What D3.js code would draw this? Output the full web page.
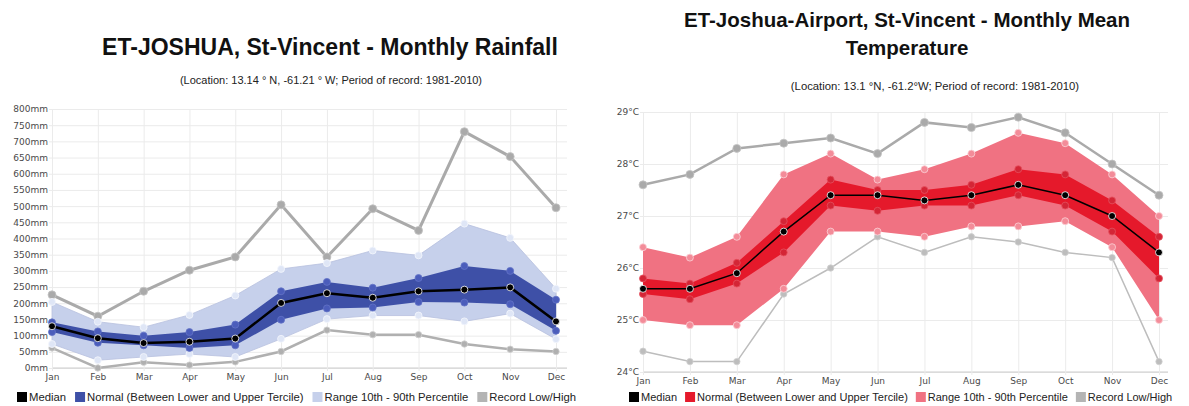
<!DOCTYPE html>
<html>
<head>
<meta charset="utf-8">
<script src="https://cdn.jsdelivr.net/npm/d3@7"></script>
<style>
	body { margin: 0; background: #fff; }
	svg { display: block; }
	.tick-label { font-family: 'DejaVu Sans', sans-serif; font-size: 9px; fill: #4a4a4a; }
	.legend-text { font-family: 'Liberation Sans', Arial, sans-serif; fill: #222; }
	.title { font-family: 'Liberation Sans', Arial, sans-serif; font-weight: bold; fill: #111; }
	.subtitle { font-family: 'Liberation Sans', Arial, sans-serif; fill: #222; }
</style>
</head>
<body>
<div id="canvas"></div>
<script>
const months = ['Jan', 'Feb', 'Mar', 'Apr', 'May', 'Jun', 'Jul', 'Aug', 'Sep', 'Oct', 'Nov', 'Dec'];

// rainfall (mm)
const rainHigh = [226, 160, 237, 302, 343, 504, 343, 492, 425, 730, 653, 495];
const rainP90 = [204, 143, 126, 164, 224, 306, 324, 363, 348, 446, 402, 245];
const rainUpper = [141, 113, 100, 111, 134, 237, 266, 248, 278, 315, 300, 211];
const rainMedian = [129, 92, 77, 81, 91, 201, 231, 217, 237, 242, 249, 144];
const rainLower = [111, 78, 70, 62, 70, 149, 184, 187, 204, 202, 197, 115];
const rainP10 = [74, 24, 34, 43, 34, 90, 151, 162, 162, 144, 168, 89];
const rainLow = [62, 0, 18, 9, 19, 51, 117, 103, 103, 74, 58, 51];
const rainTicks = [0, 50, 100, 150, 200, 250, 300, 350, 400, 450, 500, 550, 600, 650, 700, 750, 800];

// mean temperature (°C)
const tempHigh = [27.6, 27.8, 28.3, 28.4, 28.5, 28.2, 28.8, 28.7, 28.9, 28.6, 28.0, 27.4];
const tempP90 = [26.4, 26.2, 26.6, 27.8, 28.2, 27.7, 27.9, 28.2, 28.6, 28.4, 27.8, 27.0];
const tempUpper = [25.8, 25.7, 26.1, 26.9, 27.7, 27.5, 27.5, 27.6, 27.9, 27.8, 27.3, 26.6];
const tempMedian = [25.6, 25.6, 25.9, 26.7, 27.4, 27.4, 27.3, 27.4, 27.6, 27.4, 27.0, 26.3];
const tempLower = [25.5, 25.4, 25.7, 26.3, 27.2, 27.1, 27.2, 27.2, 27.4, 27.2, 26.7, 25.8];
const tempP10 = [25.0, 24.9, 24.9, 25.6, 26.7, 26.7, 26.6, 26.8, 26.8, 26.9, 26.4, 25.0];
const tempLow = [24.4, 24.2, 24.2, 25.5, 26.0, 26.6, 26.3, 26.6, 26.5, 26.3, 26.2, 24.2];
const tempTicks = [24, 25, 26, 27, 28, 29];

const legendLabels = ['Median', 'Normal (Between Lower and Upper Tercile)', 'Range 10th - 90th Percentile', 'Record Low/High'];

const svg = d3.select('#canvas').append('svg').attr('width', 1189).attr('height', 406);

function drawPanel(cfg) {
	const g = svg.append('g');
	const x = d3.scalePoint().domain(months).range(cfg.xRange);
	const y = d3.scaleLinear().domain(cfg.yDomain).range(cfg.yRange);
	const [x0] = cfg.xRange;
	const right = cfg.plotRight;
	const [yBottom, yTop] = cfg.yRange;

	// grid + axes
	g.append('g')
		.attr('transform', `translate(${x0},0)`)
		.call(d3.axisLeft(y).tickValues(cfg.ticks).tickSize(-(right - x0)).tickSizeOuter(0).tickFormat(cfg.tickFmt).tickPadding(4))
		.call(a => a.select('.domain').attr('stroke', '#ccc'))
		.call(a => a.selectAll('.tick line').attr('stroke', '#ebebeb').attr('x1', -3))
		.call(a => a.selectAll('.tick text').attr('class', 'tick-label').attr('font-family', null).attr('font-size', null).attr('fill', null));

	g.append('g')
		.attr('transform', `translate(0,${yBottom})`)
		.call(d3.axisBottom(x).tickSize(-(yBottom - yTop)).tickSizeOuter(0).tickPadding(6))
		.call(a => a.select('.domain').attr('stroke', '#ccc').attr('d', `M${x0},0H${right}`))
		.call(a => a.selectAll('.tick line').attr('stroke', '#ebebeb').attr('y1', 3))
		.call(a => a.selectAll('.tick text').attr('class', 'tick-label').attr('font-family', null).attr('font-size', null).attr('fill', null));

	const band = (lo, hi) => d3.area().x((d, i) => x(months[i])).y0((d, i) => y(lo[i])).y1(d => y(d))(hi);
	const line = vals => d3.line().x((d, i) => x(months[i])).y(d => y(d))(vals);

	g.append('path').attr('d', band(cfg.p10, cfg.p90)).attr('fill', cfg.rangeColor).attr('stroke', cfg.rangeEdge).attr('stroke-width', 0.8);
	g.append('path').attr('d', band(cfg.lower, cfg.upper)).attr('fill', cfg.normalColor);

	g.append('path').attr('d', line(cfg.high)).attr('fill', 'none').attr('stroke', '#aaa').attr('stroke-width', cfg.highWidth);
	g.append('path').attr('d', line(cfg.low)).attr('fill', 'none').attr('stroke', cfg.lowColor).attr('stroke-width', cfg.lowWidth);
	g.append('path').attr('d', line(cfg.median)).attr('fill', 'none').attr('stroke', '#000').attr('stroke-width', cfg.medianWidth);

	const dots = (vals, r, fill, stroke) => {
		g.append('g').selectAll('circle').data(vals).join('circle')
			.attr('cx', (d, i) => x(months[i]))
			.attr('cy', d => y(d))
			.attr('r', r)
			.attr('fill', fill)
			.attr('stroke', stroke)
			.attr('stroke-width', 0.8);
	};
	dots(cfg.high, 4, '#aaa', '#c4c4c4');
	dots(cfg.low, 3.2, cfg.lowColor, '#d0d0d0');
	dots(cfg.p90, 3.5, cfg.pDot, cfg.pDotStroke);
	dots(cfg.p10, 3.5, cfg.pDot, cfg.pDotStroke);
	dots(cfg.upper, 3.5, cfg.tDot, cfg.tDotStroke);
	dots(cfg.lower, 3.5, cfg.tDot, cfg.tDotStroke);
	dots(cfg.median, 3.5, '#000', '#fff');

	// titles
	cfg.title.forEach((t, i) => {
		svg.append('text').attr('class', 'title').attr('x', cfg.titleX).attr('y', cfg.titleY + i * 28)
			.attr('font-size', cfg.titleSize).attr('text-anchor', 'middle').text(t);
	});
	svg.append('text').attr('class', 'subtitle').attr('x', cfg.subX).attr('y', cfg.subY)
		.attr('font-size', cfg.subSize).attr('text-anchor', 'middle').text(cfg.subtitle);

	// legend
	const colors = ['#000', cfg.normalColor, cfg.rangeColor, '#b4b4b4'];
	const lg = svg.append('g').attr('transform', `translate(${cfg.legendX},${cfg.legendY})`);
	let cx = 0;
	legendLabels.forEach((lbl, i) => {
		lg.append('rect').attr('x', cx).attr('y', -9).attr('width', 10).attr('height', 10).attr('fill', colors[i]);
		const t = lg.append('text').attr('class', 'legend-text').attr('font-size', cfg.legendSize)
			.attr('x', cx + 12).attr('y', 0).text(lbl);
		cx += 12 + t.node().getComputedTextLength() + cfg.legendGap;
	});
}

drawPanel({
	xRange: [52, 556], plotRight: 567, yRange: [368, 109], yDomain: [0, 800],
	ticks: rainTicks, tickFmt: d => `${d}mm`,
	high: rainHigh, p90: rainP90, upper: rainUpper, median: rainMedian, lower: rainLower, p10: rainP10, low: rainLow,
	rangeColor: '#c6d0eb', rangeEdge: '#b7c0de', normalColor: '#3e50a7',
	pDot: '#dfe6f6', pDotStroke: '#f4f6fc', tDot: '#4b5dbb', tDotStroke: '#6373c6',
	lowColor: '#b0b0b0', highWidth: 3, lowWidth: 2.5, medianWidth: 2.5,
	title: ['ET-JOSHUA, St-Vincent - Monthly Rainfall'], titleX: 330, titleY: 55, titleSize: 23,
	subtitle: '(Location: 13.14 ° N, -61.21 ° W; Period of record: 1981-2010)', subX: 331, subY: 84, subSize: 11,
	legendX: 17, legendY: 401, legendGap: 9, legendSize: 11.3,
});

drawPanel({
	xRange: [643, 1159], plotRight: 1168, yRange: [372, 112], yDomain: [24, 29],
	ticks: tempTicks, tickFmt: d => `${d}°C`,
	high: tempHigh, p90: tempP90, upper: tempUpper, median: tempMedian, lower: tempLower, p10: tempP10, low: tempLow,
	rangeColor: '#f07282', rangeEdge: 'none', normalColor: '#e5192b',
	pDot: '#f38c99', pDotStroke: '#fbd3d8', tDot: '#d42536', tDotStroke: '#e5505e',
	lowColor: '#bdbdbd', highWidth: 2.5, lowWidth: 1.5, medianWidth: 1.5,
	title: ['ET-Joshua-Airport, St-Vincent - Monthly Mean', 'Temperature'], titleX: 907, titleY: 27, titleSize: 20.5,
	subtitle: '(Location: 13.1 °N, -61.2°W; Period of record: 1981-2010)', subX: 935, subY: 90, subSize: 11.3,
	legendX: 629, legendY: 401, legendGap: 8, legendSize: 11,
});
</script>
</body>
</html>
